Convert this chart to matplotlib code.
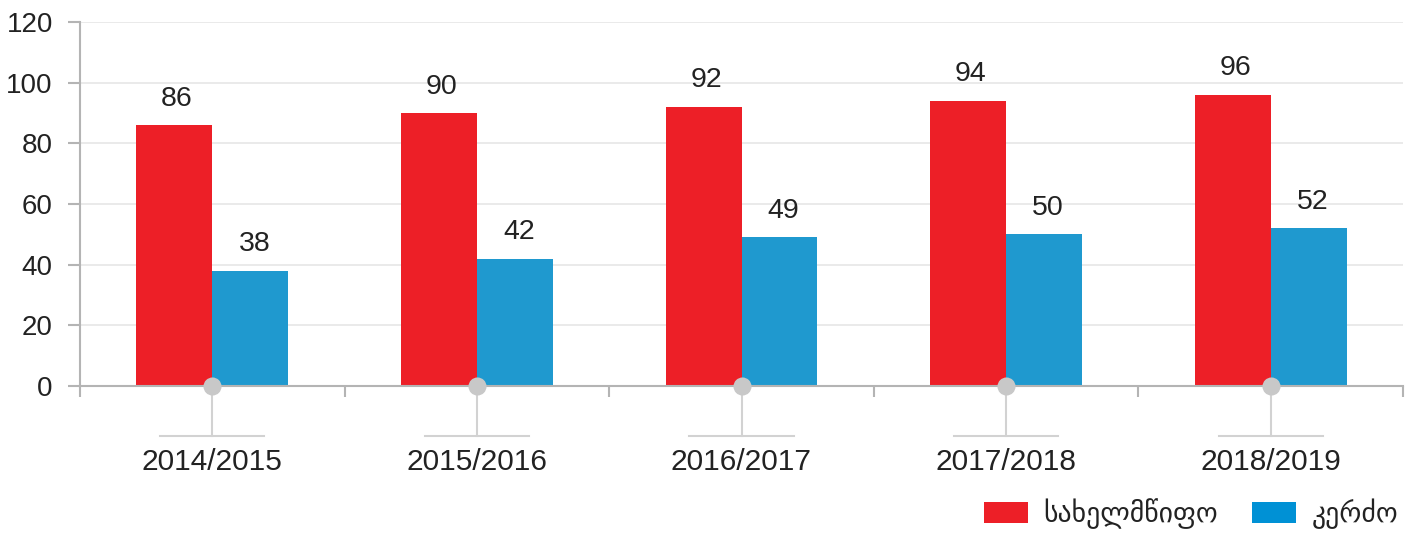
import numpy as np
import matplotlib.pyplot as plt
from matplotlib.patches import Patch
from matplotlib.transforms import blended_transform_factory

# data
years = ['2014/2015', '2015/2016', '2016/2017', '2017/2018', '2018/2019']
state = [86, 90, 92, 94, 96]
private = [38, 42, 49, 50, 52]
legend_labels = ['სახელმწიფო', 'კერძო']

RED = '#ED1F27'
BLUE = '#1F99CF'
LEG_BLUE = '#0091D5'
AXIS = '#B4B4B4'
GRID = '#E6E6E6'
TXT = '#222222'

plt.rcParams['font.family'] = ['Liberation Sans', 'DejaVu Sans']

fig = plt.figure(figsize=(14.11, 5.33), dpi=100)
W, H = 1411, 533
ax = fig.add_axes([80 / W, (H - 386) / H, (1403 - 80) / W, (386 - 22) / H])

x = np.arange(len(years))
bw = 0.287
ax.bar(x - bw / 2, state, width=bw, color=RED, zorder=2)
ax.bar(x + bw / 2, private, width=bw, color=BLUE, zorder=2)

for xi, v in zip(x, state):
    ax.annotate(str(v), (xi - bw / 2, v), xytext=(2, 14), textcoords='offset points',
                ha='center', va='baseline', fontsize=20.5, color=TXT)
for xi, v in zip(x, private):
    ax.annotate(str(v), (xi + bw / 2, v), xytext=(3, 14), textcoords='offset points',
                ha='center', va='baseline', fontsize=20.5, color=TXT)

ax.set_xlim(-0.5, len(years) - 0.5)
ax.set_ylim(0, 120)
ax.set_yticks(range(0, 121, 20))
ax.grid(axis='y', color=GRID, linewidth=1.2, zorder=0)

for s in ['top', 'right']:
    ax.spines[s].set_visible(False)
for s in ['left', 'bottom']:
    ax.spines[s].set_color(AXIS)
    ax.spines[s].set_linewidth(1.5)
    ax.spines[s].set_zorder(3)

ax.tick_params(axis='y', length=8.6, width=1.5, color=AXIS, pad=11,
               labelsize=20, labelcolor=TXT)
ax.set_xticks(x)
ax.set_xticklabels(years)
ax.set_xticks(np.arange(-0.5, len(years)), minor=True)
ax.tick_params(axis='x', which='major', length=0, pad=45, labelsize=21.5, labelcolor=TXT)
ax.tick_params(axis='x', which='minor', length=8, width=1.5, color=AXIS)

# category markers: dot on the axis with a stem and short bar below
trans = blended_transform_factory(ax.transData, ax.transAxes)
stem_y = -50 / 364
for xi in x:
    ax.plot([xi, xi], [0, stem_y], transform=trans, color='#D2D2D2', lw=1.5,
            clip_on=False, zorder=1)
    ax.plot([xi - 0.197, xi + 0.197], [stem_y, stem_y], transform=trans,
            color='#D2D2D2', lw=1.5, clip_on=False, zorder=1)
ax.plot(x, np.zeros(len(x)), 'o', color='#C8C8C8', markersize=13,
        markeredgewidth=0, clip_on=False, zorder=4)

handles = [Patch(facecolor=RED, edgecolor='none'), Patch(facecolor=LEG_BLUE, edgecolor='none')]
fig.legend(handles, legend_labels, loc='lower right', bbox_to_anchor=(1412 / W, -10 / H),
           ncol=2, frameon=False, fontsize=20, handlelength=1.6, handleheight=0.75,
           handletextpad=0.55, columnspacing=1.2, borderpad=0, labelcolor=TXT)

fig.savefig('out.png', dpi=100)
